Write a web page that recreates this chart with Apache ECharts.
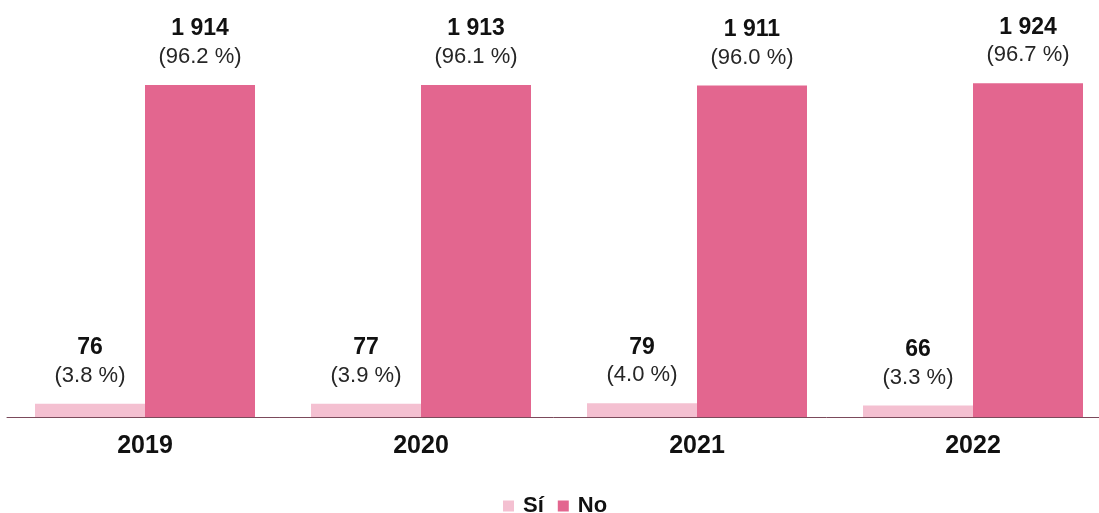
<!DOCTYPE html>
<html>
<head>
<meta charset="utf-8">
<script src="https://cdn.jsdelivr.net/npm/echarts@6/dist/echarts.min.js"></script>
<style>
html,body{margin:0;padding:0;background:#fff;}
#chart{width:1099px;height:513px;}
</style>
</head>
<body>
<div id="chart"></div>
<script>
const categories = ["2019", "2020", "2021", "2022"];
const siValues = [76, 77, 79, 66];
const noValues = [1914, 1913, 1911, 1924];
const siPct = ["3.8", "3.9", "4.0", "3.3"];
const noPct = ["96.2", "96.1", "96.0", "96.7"];

function fmtNum(v) {
  return String(v).replace(/\B(?=(\d{3})+(?!\d))/g, ' ');
}

const FONT = 'Liberation Sans, Arial, sans-serif';
const rich = {
  v: { fontFamily: FONT, fontWeight: 'bold', fontSize: 23, color: '#111', lineHeight: 28 },
  p: { fontFamily: FONT, fontSize: 22, color: '#262626', lineHeight: 28 }
};

const chart = echarts.init(document.getElementById('chart'));
chart.setOption({
  animation: false,
  backgroundColor: '#fff',
  grid: { left: 7, width: 1104, top: 70, bottom: 96, outerBoundsMode: 'none', containLabel: false },
  legend: {
    top: 490,
    left: 498,
    itemWidth: 11,
    itemHeight: 11,
    itemGap: 14,
    icon: 'rect',
    textStyle: { fontFamily: FONT, fontWeight: 'bold', fontSize: 22, color: '#111', padding: [0, 0, 0, 4] },
    data: ['Sí', 'No']
  },
  xAxis: {
    type: 'category',
    data: categories,
    axisLine: { lineStyle: { color: '#7b4a5b', width: 1 } },
    axisTick: { show: false },
    axisLabel: { fontFamily: FONT, fontWeight: 'bold', fontSize: 25, color: '#111', margin: 17 }
  },
  yAxis: { type: 'value', min: 0, max: 2000, show: false, splitLine: { show: false } },
  series: [
    {
      name: 'Sí', type: 'bar', data: siValues, barWidth: 110, barGap: '0%',
      itemStyle: { color: '#f4c0d1' },
      label: {
        show: true, position: 'top', distance: 14,
        formatter: p => '{v|' + fmtNum(p.value) + '}\n{p|(' + siPct[p.dataIndex] + ' %)}',
        rich: rich
      }
    },
    {
      name: 'No', type: 'bar', data: noValues, barWidth: 110, barGap: '0%',
      itemStyle: { color: '#e3668f' },
      label: {
        show: true, position: 'top', distance: 14,
        formatter: p => '{v|' + fmtNum(p.value) + '}\n{p|(' + noPct[p.dataIndex] + ' %)}',
        rich: rich
      }
    }
  ]
});
</script>
</body>
</html>
